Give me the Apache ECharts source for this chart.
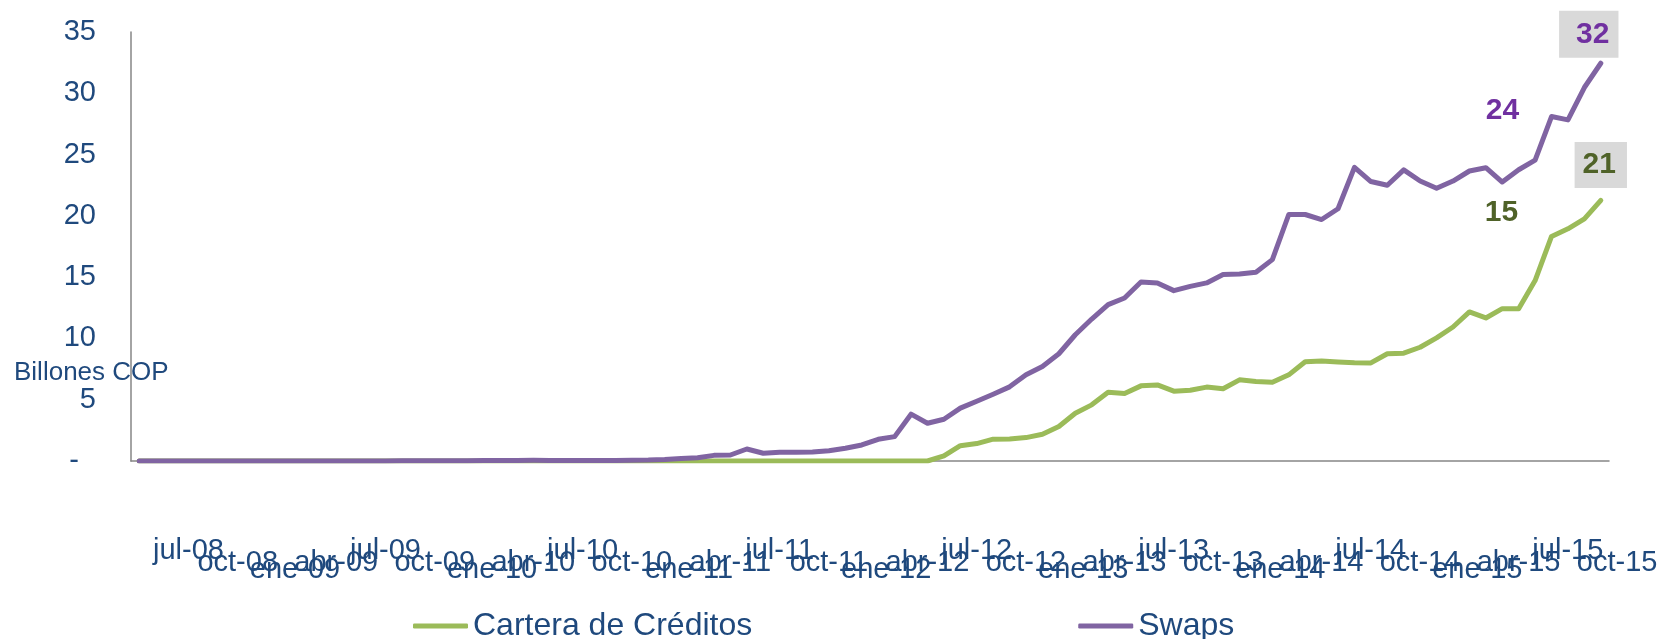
<!DOCTYPE html>
<html>
<head>
<meta charset="utf-8">
<script src="https://cdn.jsdelivr.net/npm/echarts@6/dist/echarts.min.js"></script>
<style>
  html, body { margin: 0; padding: 0; background: #ffffff; }
  #chart { width: 1667px; height: 639px; }
</style>
</head>
<body>
<div id="chart"></div>
<script>
// Monthly categories of the data (abr-08 .. sep-15)
const months = [
  'abr-08','may-08','jun-08','jul-08','ago-08','sep-08','oct-08','nov-08','dic-08',
  'ene-09','feb-09','mar-09','abr-09','may-09','jun-09','jul-09','ago-09','sep-09','oct-09','nov-09','dic-09',
  'ene-10','feb-10','mar-10','abr-10','may-10','jun-10','jul-10','ago-10','sep-10','oct-10','nov-10','dic-10',
  'ene-11','feb-11','mar-11','abr-11','may-11','jun-11','jul-11','ago-11','sep-11','oct-11','nov-11','dic-11',
  'ene-12','feb-12','mar-12','abr-12','may-12','jun-12','jul-12','ago-12','sep-12','oct-12','nov-12','dic-12',
  'ene-13','feb-13','mar-13','abr-13','may-13','jun-13','jul-13','ago-13','sep-13','oct-13','nov-13','dic-13',
  'ene-14','feb-14','mar-14','abr-14','may-14','jun-14','jul-14','ago-14','sep-14','oct-14','nov-14','dic-14',
  'ene-15','feb-15','mar-15','abr-15','may-15','jun-15','jul-15','ago-15','sep-15'
];
// Tick-label months (one more month at the end, as on the original axis)
const labelMonths = months.concat(['oct-15']);

// Billones COP
const cartera = [
  0,0,0,0,0,0,0,0,0,0,
  0,0,0,0,0,0,0,0,0,0,
  0,0,0,0,0,0,0,0,0,0,
  0,0,0,0,0,0,0,0,0,0,
  0,0,0,0,0,0,0,0,0,0.41,
  1.25,1.42,1.78,1.80,1.91,2.18,2.81,3.90,4.58,5.60,
  5.50,6.13,6.21,5.70,5.77,6.03,5.90,6.62,6.49,6.42,
  7.03,8.10,8.16,8.08,8.02,8.00,8.75,8.80,9.28,10.05,
  10.93,12.16,11.67,12.43,12.43,14.72,18.32,18.94,19.75,21.26
];
const swaps = [
  0,0,0,0,0,0,0,0,0.01,0.01,
  0.01,0.01,0.01,0.01,0.01,0.01,0.02,0.02,0.02,0.03,
  0.03,0.04,0.05,0.05,0.06,0.05,0.04,0.04,0.04,0.05,
  0.07,0.08,0.12,0.20,0.27,0.46,0.49,0.98,0.63,0.71,
  0.71,0.73,0.84,1.04,1.31,1.77,1.99,3.82,3.08,3.41,
  4.31,4.88,5.45,6.05,7.03,7.71,8.75,10.30,11.58,12.76,
  13.30,14.61,14.53,13.90,14.25,14.53,15.21,15.26,15.40,16.43,
  20.11,20.11,19.70,20.58,23.95,22.80,22.50,23.75,22.84,22.25,
  22.84,23.66,23.93,22.76,23.76,24.55,28.10,27.83,30.47,32.45
];
const seriesNames = ['Cartera de Créditos', 'Swaps'];
const yTicks = [0, 35, 5]; // min, max, interval
// Label rows of the staggered month axis
const labelRows = [['jul'], ['oct', 'abr'], ['ene']];

const FONT = 'Liberation Sans, Arial, Helvetica, sans-serif';
const TXT = '#1F497D';
const GREEN = '#9BBB59';
const PURPLE = '#8064A2';

function withEndLabel(arr, lineColor, color, padding, offset, distance) {
  return arr.map(function (v, i) {
    if (i !== arr.length - 1) return v;
    return {
      value: v,
      symbol: 'circle', symbolSize: 1,
      itemStyle: { color: lineColor },
      label: {
        show: true, position: 'top', distance: distance, offset: offset,
        formatter: function (p) { return String(Math.round(p.value - 0.01)); },
        color: color, fontFamily: FONT, fontWeight: 'bold', fontSize: 30,
        lineHeight: 30, backgroundColor: '#D9D9D9', padding: padding
      }
    };
  });
}

const rowStyles = [
  { lineHeight: 49, padding: [0, 0, 0, 0] },
  { lineHeight: 73, padding: [0, 0, 0, 0] },
  { lineHeight: 88, padding: [0, 0, 0, 16] }
];

function labelAxis(rowIdx) {
  const prefixes = labelRows[rowIdx];
  const st = rowStyles[rowIdx];
  return {
    type: 'category', gridIndex: 1, position: 'bottom', offset: 0,
    data: labelMonths, boundaryGap: true,
    axisLine: { show: false }, axisTick: { show: false }, splitLine: { show: false },
    axisLabel: {
      show: true, margin: 65,
      interval: function (index, value) {
        return index >= 3 && prefixes.indexOf(String(value).slice(0, 3)) >= 0;
      },
      formatter: function (v) { return '{r|' + v + '}'; },
      rich: {
        r: { fontSize: 29, fontFamily: FONT, color: TXT, lineHeight: st.lineHeight, padding: st.padding }
      }
    }
  };
}

const chart = echarts.init(document.getElementById('chart'), null, { renderer: 'canvas' });
chart.setOption({
  animation: false,
  backgroundColor: '#ffffff',
  grid: [
    { left: 131, right: 58, top: 32, bottom: 178, containLabel: false },
    { left: 131, right: 41.7, top: 32, bottom: 178, containLabel: false }
  ],
  legend: {
    data: seriesNames,
    left: 408, top: 603,
    icon: 'roundRect', itemWidth: 55, itemHeight: 5, itemGap: 326,
    textStyle: { color: TXT, fontSize: 32, fontFamily: FONT, lineHeight: 36 }
  },
  xAxis: [
    {
      type: 'category', gridIndex: 0, data: months, boundaryGap: true, position: 'bottom',
      axisLine: { show: true, lineStyle: { color: '#868686', width: 1.5 } },
      axisTick: { show: false }, axisLabel: { show: false }, splitLine: { show: false }
    },
    labelAxis(0),
    labelAxis(1),
    labelAxis(2)
  ],
  yAxis: [
    {
      type: 'value', gridIndex: 0, min: yTicks[0], max: yTicks[1], interval: yTicks[2],
      axisLine: { show: true, lineStyle: { color: '#868686', width: 1.5 } },
      axisTick: { show: false }, splitLine: { show: false },
      axisLabel: {
        margin: 35, color: TXT, fontSize: 29, fontFamily: FONT,
        formatter: function (v) { return v === 0 ? '{z|-}' : String(v); },
        rich: { z: { fontSize: 29, fontFamily: FONT, color: TXT, padding: [0, 17, 0, 0] } }
      }
    },
    { type: 'value', gridIndex: 1, show: false, min: 0, max: 35 }
  ],
  series: [
    {
      name: seriesNames[0], type: 'line', xAxisIndex: 0, yAxisIndex: 0,
      data: withEndLabel(cartera, GREEN, '#4F6228', [8, 11, 8, 8], [0, 0], 12),
      symbol: 'none', showSymbol: true,
      lineStyle: { color: GREEN, width: 5, cap: 'round', join: 'round' },
      itemStyle: { color: GREEN }, z: 2
    },
    {
      name: seriesNames[1], type: 'line', xAxisIndex: 0, yAxisIndex: 0,
      data: withEndLabel(swaps, PURPLE, '#7030A0', [9, 9, 8, 17], [-12, 0], 5),
      symbol: 'none', showSymbol: true,
      lineStyle: { color: PURPLE, width: 5, cap: 'round', join: 'round' },
      itemStyle: { color: PURPLE }, z: 3
    }
  ],
  graphic: [
    { type: 'text', x: 14, y: 373, z: 10,
      style: { text: 'Billones COP', fill: TXT, font: '26px ' + FONT, verticalAlign: 'middle', align: 'left' } },
    { type: 'text', x: 1502.5, y: 110.5, z: 10,
      style: { text: '24', fill: '#7030A0', font: 'bold 30px ' + FONT, verticalAlign: 'middle', align: 'center' } },
    { type: 'text', x: 1501.5, y: 213, z: 10,
      style: { text: '15', fill: '#4F6228', font: 'bold 30px ' + FONT, verticalAlign: 'middle', align: 'center' } }
  ]
});
</script>
</body>
</html>
